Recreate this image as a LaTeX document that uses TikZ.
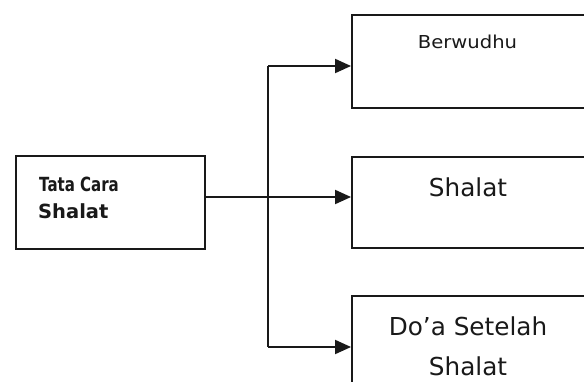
\documentclass[tikz,border=0pt]{standalone}
\usepackage{fontspec}
\setmainfont{DejaVu Sans}
\usetikzlibrary{arrows.meta}
\begin{document}
\begin{tikzpicture}[x=1pt,y=-1pt,
  box/.style={draw=black!90, line width=1.9pt, rectangle, inner sep=0pt},
  link/.style={draw=black!90, line width=1.9pt},
  arr/.style={link, -{Triangle[length=16pt,width=14pt]}},
  lbl/.style={inner sep=0pt, align=center, text=black!90}]
  \useasboundingbox (0,0) rectangle (584,381);
  \clip (0,0) rectangle (584,381);

  % boxes (the three on the right run past the page edge)
  \node[box, minimum width=189pt, minimum height=93pt] (main) at (110.5,202.5) {};
  \node[box, minimum width=268pt, minimum height=93pt] (berwudhu) at (486,61.5) {};
  \node[box, minimum width=268pt, minimum height=91pt] (shalat) at (486,202.5) {};
  \node[box, minimum width=268pt, minimum height=124pt] (doa) at (486,358) {};

  % labels
  \node[lbl, anchor=base west] (t1) at (39,191.5) {\fontsize{19.5}{20}\selectfont\bfseries\scalebox{0.77}[1]{Tata Cara}};
  \node[lbl, anchor=base west] (t2) at (38,218) {\fontsize{19.5}{20}\selectfont\bfseries\scalebox{1.0}[1]{Shalat}};
  \node[lbl, anchor=base] (t3) at (467.5,48) {\fontsize{17.8}{18}\selectfont\scalebox{1.1}[1]{Berwudhu}};
  \node[lbl, anchor=base] (t4) at (468,196.5) {\fontsize{24.7}{25}\selectfont Shalat};
  \node[lbl, anchor=base] (t5) at (468,335) {\fontsize{24.7}{25}\selectfont Do’a Setelah};
  \node[lbl, anchor=base] (t6) at (468,375) {\fontsize{24.7}{25}\selectfont Shalat};

  % branching connectors
  \coordinate (jm) at (268,197);
  \coordinate (jt) at (268,66);
  \coordinate (jb) at (268,347);
  \draw[link] (jt) -- (jb);
  \draw[arr] (main.east |- jm) -- (jm) -- (jm -| shalat.west);
  \draw[arr] (jt) -- (jt -| berwudhu.west);
  \draw[arr] (jb) -- (jb -| doa.west);
\end{tikzpicture}
\end{document}
